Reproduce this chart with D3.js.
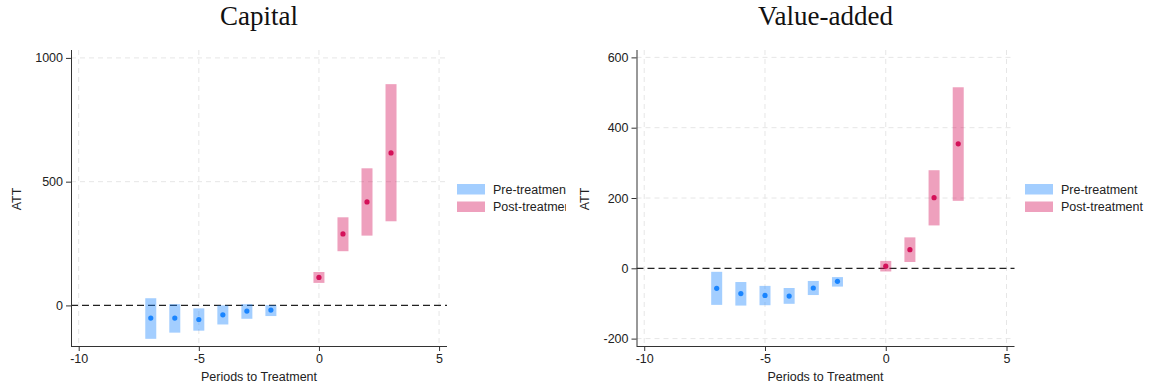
<!DOCTYPE html>
<html>
<head>
<meta charset="utf-8">
<script src="https://cdn.jsdelivr.net/npm/d3@7"></script>
<style>
  body { margin: 0; background: #fff; }
  svg { display: block; }
  text { font-family: "Liberation Sans", Arial, sans-serif; fill: #222; }
  .title { font-family: "Liberation Serif", "Times New Roman", serif; font-size: 27px; fill: #111; }
</style>
</head>
<body>
<svg id="chart" width="1150" height="388"></svg>
<script>
// periods relative to treatment
const prePeriods = [-7, -6, -5, -4, -3, -2];
const postPeriods = [0, 1, 2, 3];

// Capital: estimate, lower CI, upper CI
const capitalPreEst = [-51, -51, -57, -38, -23, -19];
const capitalPreLo = [-135, -110, -102, -77, -54, -43];
const capitalPreHi = [29, 5, -12, 0, 5, 1];
const capitalPostEst = [113, 289, 418, 616];
const capitalPostLo = [91, 219, 282, 340];
const capitalPostHi = [135, 356, 554, 894];

// Value-added
const vaPreEst = [-57, -72, -77, -79, -56, -37];
const vaPreLo = [-104, -106, -105, -101, -76, -52];
const vaPreHi = [-10, -39, -50, -56, -36, -25];
const vaPostEst = [6, 53, 201, 354];
const vaPostLo = [-9, 18, 122, 192];
const vaPostHi = [21, 88, 279, 515];

const xTicks = [-10, -5, 0, 5];
const capitalTicks = [0, 500, 1000];
const vaTicks = [-200, 0, 200, 400, 600];
const legendLabels = ['Pre-treatment', 'Post-treatment'];

const preColor = '#1a85ff', postColor = '#d41159';

const svg = d3.select('#chart');

function zip(p, e, lo, hi) {
  return p.map((d, i) => ({ t: d, est: e[i], lo: lo[i], hi: hi[i] }));
}

function drawPanel(opts) {
  const clipId = 'clip' + opts.id;
  svg.append('clipPath').attr('id', clipId)
    .append('rect').attr('x', opts.clip[0]).attr('y', 0)
    .attr('width', opts.clip[1] - opts.clip[0]).attr('height', 388);

  const g = svg.append('g').attr('clip-path', 'url(#' + clipId + ')');

  let x = d3.scaleLinear().domain([-10.32, 5.33]).range(opts.xRange);
  let y = d3.scaleLinear().domain(opts.yDomain).range([346, 50]);

  // grid
  g.append('g').selectAll('line').data(xTicks).join('line')
    .attr('x1', d => x(d)).attr('x2', d => x(d))
    .attr('y1', 50).attr('y2', 346)
    .attr('stroke', '#e6e6e6').attr('stroke-dasharray', '5,4');
  g.append('g').selectAll('line').data(opts.yTicks.filter(d => d !== 0)).join('line')
    .attr('x1', opts.xRange[0]).attr('x2', opts.xRange[1])
    .attr('y1', d => y(d)).attr('y2', d => y(d))
    .attr('stroke', '#e6e6e6').attr('stroke-dasharray', '5,4');

  // zero line
  g.append('line')
    .attr('x1', opts.xRange[0]).attr('x2', opts.xRange[1])
    .attr('y1', y(0)).attr('y2', y(0))
    .attr('stroke', '#222').attr('stroke-width', 1.3).attr('stroke-dasharray', '7,4');

  const bw = 11;
  const series = [
    { data: opts.pre, color: preColor },
    { data: opts.post, color: postColor }
  ];
  series.forEach(s => {
    g.append('g').selectAll('rect').data(s.data).join('rect')
      .attr('x', d => x(d.t) - bw / 2)
      .attr('width', bw)
      .attr('y', d => y(d.hi))
      .attr('height', d => y(d.lo) - y(d.hi))
      .attr('fill', s.color).attr('fill-opacity', 0.4);
    g.append('g').selectAll('circle').data(s.data).join('circle')
      .attr('cx', d => x(d.t)).attr('cy', d => y(d.est))
      .attr('r', 2.6).attr('fill', s.color);
  });

  // axes (plain hyphen minus, no thousands separator)
  const fmt = d => String(d);
  const xAxis = g.append('g').attr('transform', 'translate(0,346)')
    .call(d3.axisBottom(x).tickValues(xTicks).tickFormat(fmt).tickSize(5).tickPadding(3));
  const yAxis = g.append('g').attr('transform', 'translate(' + opts.xRange[0] + ',0)')
    .call(d3.axisLeft(y).tickValues(opts.yTicks).tickFormat(fmt).tickSize(5).tickPadding(3));
  [xAxis, yAxis].forEach(a => {
    a.select('.domain').attr('stroke', '#333');
    a.selectAll('.tick line').attr('stroke', '#333');
    a.selectAll('.tick text').attr('font-size', 12.5).attr('fill', '#222')
      .attr('font-family', '"Liberation Sans", Arial, sans-serif');
  });
  xAxis.select('.domain').attr('d', 'M' + opts.xRange[0] + ',0.5H' + opts.xRange[1]);
  yAxis.select('.domain').attr('d', 'M0.5,346V50');

  const cx = (opts.xRange[0] + opts.xRange[1]) / 2;
  g.append('text').attr('class', 'title').attr('x', cx).attr('y', 25)
    .attr('text-anchor', 'middle').text(opts.title);
  g.append('text').attr('x', cx).attr('y', 381).attr('text-anchor', 'middle')
    .attr('font-size', 12.5).text('Periods to Treatment');
  g.append('text')
    .attr('transform', 'translate(' + opts.yLabelX + ',199) rotate(-90)')
    .attr('text-anchor', 'middle').attr('font-size', 12.5).text('ATT');

  // legend
  const lg = g.append('g').attr('transform', 'translate(' + opts.legendX + ',184)');
  lg.selectAll('rect').data([preColor, postColor]).join('rect')
    .attr('x', 0).attr('y', (d, i) => i * 17.5)
    .attr('width', 28).attr('height', 10.5)
    .attr('fill', d => d).attr('fill-opacity', 0.4);
  lg.selectAll('text').data(legendLabels).join('text')
    .attr('x', 36).attr('y', (d, i) => i * 17.5 + 9.5)
    .attr('font-size', 12.5).text(d => d);
}

drawPanel({
  id: 'a', title: 'Capital', clip: [0, 566],
  xRange: [71, 447], yDomain: [-164, 1032], yTicks: capitalTicks,
  pre: zip(prePeriods, capitalPreEst, capitalPreLo, capitalPreHi),
  post: zip(postPeriods, capitalPostEst, capitalPostLo, capitalPostHi),
  yLabelX: 21, legendX: 457
});

drawPanel({
  id: 'b', title: 'Value-added', clip: [566, 1150],
  xRange: [636.5, 1014.5], yDomain: [-221, 621], yTicks: vaTicks,
  pre: zip(prePeriods, vaPreEst, vaPreLo, vaPreHi),
  post: zip(postPeriods, vaPostEst, vaPostLo, vaPostHi),
  yLabelX: 589, legendX: 1025
});
</script>
</body>
</html>
